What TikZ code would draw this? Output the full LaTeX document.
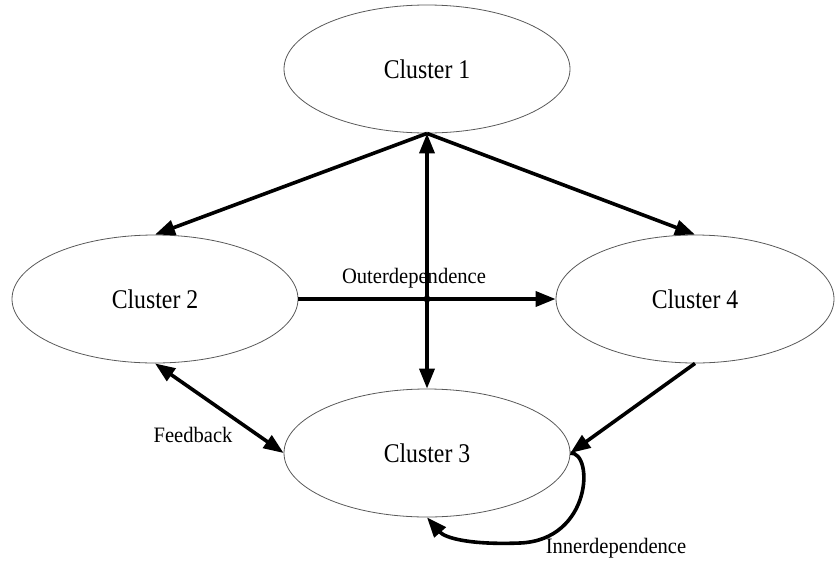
\documentclass[tikz,border=0pt]{standalone}
\usepackage{fontspec}
\setmainfont{Liberation Serif}
\newfontfamily\clfont[FakeStretch=0.88]{Liberation Serif}
\newfontfamily\lbfont[FakeStretch=0.935]{Liberation Serif}
\usetikzlibrary{shapes.geometric,arrows.meta}
\begin{document}
\begin{tikzpicture}[x=1pt,y=-1pt,
  cluster/.style={ellipse,draw=black!65,line width=0.8pt,inner sep=0pt,
    minimum width=286pt,minimum height=128pt,
    font=\clfont\fontsize{27}{30}\selectfont},
  conn/.style={line width=3.6pt,-{Triangle[length=20pt,width=15pt]}},
  biconn/.style={line width=3.6pt,{Triangle[length=20pt,width=15pt]}-{Triangle[length=20pt,width=15pt]}},
  lbl/.style={inner sep=0pt,font=\lbfont\fontsize{22}{24}\selectfont}]
\useasboundingbox (0,0) rectangle (835,563);
\node[cluster] (c1) at (427,69) {Cluster 1};
\node[cluster] (c2) at (155,299) {Cluster 2};
\node[cluster,minimum width=278pt] (c4) at (695,299) {Cluster 4};
\node[cluster] (c3) at (427,453) {Cluster 3};
\draw[conn] (c1.south) -- (c2.north);
\draw[conn] (c1.south) -- (c4.north);
\draw[biconn] (c1.south) -- (c3.north);
\draw[conn] (c2.east) -- (c4.west);
\coordinate (x) at (c2.east -| c1.south);
\fill (x) circle (3.5pt);
\draw[conn] (c4.south) -- (c3.east);
\draw[biconn] (c2.south) -- (c3.west);
\draw[conn] (c3.east) .. controls (594,452) and (592,540) .. (520,543)
  .. controls (470,545) and (445,538) .. (c3.south);
\node[lbl] (lo) at (414,278) {Outerdependence};
\node[lbl] (lf) at (193,435) {Feedback};
\node[lbl] (li) at (616,548) {Innerdependence};
\end{tikzpicture}
\end{document}
